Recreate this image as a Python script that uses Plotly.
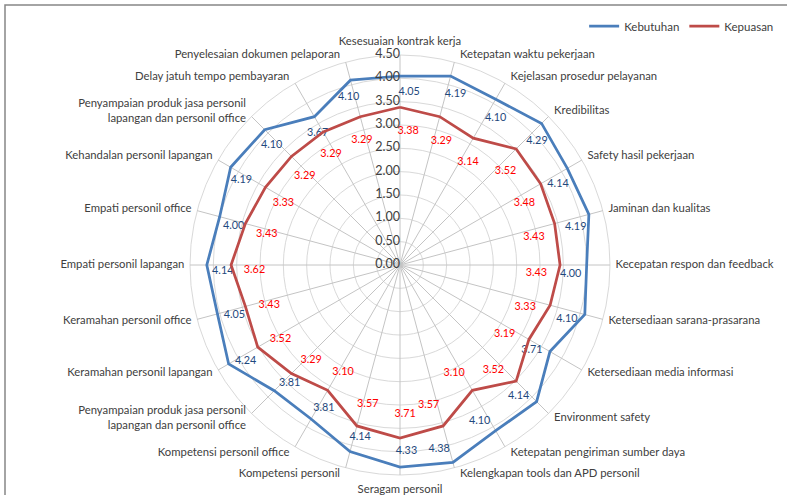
import math
import plotly.graph_objects as go

# Survey attributes, listed clockwise from the top spoke
categories = [
    "Kesesuaian kontrak kerja",
    "Ketepatan waktu pekerjaan",
    "Kejelasan prosedur pelayanan",
    "Kredibilitas",
    "Safety hasil pekerjaan",
    "Jaminan dan kualitas",
    "Kecepatan respon dan feedback",
    "Ketersediaan sarana-prasarana",
    "Ketersediaan media informasi",
    "Environment safety",
    "Ketepatan pengiriman sumber daya",
    "Kelengkapan tools dan APD personil",
    "Seragam personil",
    "Kompetensi personil",
    "Kompetensi personil office",
    "Penyampaian produk jasa personil<br>lapangan dan personil office",
    "Keramahan personil lapangan",
    "Keramahan personil office",
    "Empati personil lapangan",
    "Empati personil office",
    "Kehandalan personil lapangan",
    "Penyampaian produk jasa personil<br>lapangan dan personil office",
    "Delay jatuh tempo pembayaran",
    "Penyelesaian dokumen pelaporan",
]

kebutuhan = [4.05, 4.19, 4.10, 4.29, 4.14, 4.19, 4.00, 4.10, 3.71, 4.14, 4.10, 4.38,
             4.33, 4.14, 3.81, 3.81, 4.24, 4.05, 4.14, 4.00, 4.19, 4.10, 3.67, 4.10]
kepuasan = [3.38, 3.29, 3.14, 3.52, 3.48, 3.43, 3.43, 3.33, 3.19, 3.52, 3.10, 3.57,
            3.71, 3.57, 3.10, 3.29, 3.52, 3.43, 3.62, 3.43, 3.33, 3.29, 3.29, 3.29]

radial_ticks = [0.0, 0.5, 1.0, 1.5, 2.0, 2.5, 3.0, 3.5, 4.0, 4.5]
R_MAX = 4.5          # outer ring of the grid
R_VIEW = 4.72        # headroom so the category names fit inside the plot

n = len(categories)
angles = [i * 360.0 / n for i in range(n)]

BLUE = "#4A7EBB"
RED = "#BE4B48"
FONT = "Lato"
TEXT = "#404040"

fig = go.Figure()


def closed(vals):
    return list(vals) + [vals[0]]


# spokes, stopping at the outer ring
spoke_r, spoke_t = [], []
for a in angles:
    spoke_r += [0, R_MAX, None]
    spoke_t += [a, a, None]
fig.add_trace(go.Scatterpolar(
    r=spoke_r, theta=spoke_t, mode="lines", showlegend=False, hoverinfo="skip",
    line=dict(color="#C4C4C4", width=1),
))

# series lines, with value labels a little inside each vertex,
# nudged away from the top spoke
for name, vals, color, label_color, dr, turn_r, turn_l in [
    ("Kebutuhan", kebutuhan, BLUE, "#1F497D", 0.34, 3.0, -2.0),
    ("Kepuasan", kepuasan, RED, "#FF0000", 0.50, 3.5, -2.0),
]:
    fig.add_trace(go.Scatterpolar(
        r=closed(vals), theta=closed(angles), mode="lines", name=name,
        line=dict(color=color, width=2.75), hoverinfo="skip",
    ))
    fig.add_trace(go.Scatterpolar(
        r=[v - dr for v in vals],
        theta=[a + (turn_r if a < 180 else turn_l) for a in angles],
        mode="text", text=[f"{v:.2f}" for v in vals],
        showlegend=False, hoverinfo="skip",
        textfont=dict(family=FONT, size=10.8, color=label_color),
    ))

# scale values written along the top spoke, to its left
fig.add_trace(go.Scatterpolar(
    r=radial_ticks, theta=[0.0] * len(radial_ticks), mode="text",
    text=[f"{t:.2f}" for t in radial_ticks], textposition="middle left",
    showlegend=False, hoverinfo="skip",
    textfont=dict(family=FONT, size=12.5, color=TEXT),
))

# category names just outside the outer ring: left-aligned on the right half,
# right-aligned on the left half, centred at the top and bottom spokes
lab_r, lab_t, lab_pos = [], [], []
for a in angles:
    s, c = math.sin(math.radians(a)), math.cos(math.radians(a))
    side = abs(s) > 1e-9
    lift = 0.15 if c > -0.99 else 0.2
    pad = 0.12 if side else 0.0
    X = R_MAX * s + math.copysign(pad, s)
    Y = (R_MAX + lift) * c
    lab_r.append(math.hypot(X, Y))
    lab_t.append(math.degrees(math.atan2(X, Y)) % 360)
    if not side:
        lab_pos.append("top center" if c > 0 else "bottom center")
    elif s > 0:
        lab_pos.append("middle right")
    else:
        lab_pos.append("middle left")

fig.add_trace(go.Scatterpolar(
    r=lab_r, theta=lab_t, mode="text", text=categories, textposition=lab_pos,
    cliponaxis=False, showlegend=False, hoverinfo="skip",
    textfont=dict(family=FONT, size=11.3, color=TEXT),
))

W, H = 787, 495
cx, cy = 400, 265
RPX = 210 * R_VIEW / R_MAX

fig.update_layout(
    width=W, height=H,
    margin=dict(l=0, r=0, t=0, b=0),
    paper_bgcolor="white",
    font=dict(family=FONT, size=11.3, color=TEXT),
    polar=dict(
        domain=dict(x=[(cx - RPX) / W, (cx + RPX) / W],
                    y=[(H - cy - RPX) / H, (H - cy + RPX) / H]),
        bgcolor="white",
        gridshape="linear",
        radialaxis=dict(
            range=[0, R_VIEW], tickvals=radial_ticks, showticklabels=False,
            angle=90, showline=False,
            gridcolor="#D9D9D9", gridwidth=1, ticks="",
        ),
        angularaxis=dict(
            type="linear", thetaunit="degrees", rotation=90, direction="clockwise",
            tickvals=angles, showticklabels=False, showline=False,
            showgrid=False, ticks="",
        ),
    ),
    legend=dict(
        orientation="h", x=0.99, xanchor="right", y=1 - 26 / H, yanchor="middle",
        font=dict(family=FONT, size=11.5, color=TEXT),
        itemwidth=30, bgcolor="rgba(0,0,0,0)",
    ),
    shapes=[dict(
        type="rect", xref="paper", yref="paper",
        x0=5 / W, x1=1.02, y0=-0.02, y1=1 - 5 / H,
        line=dict(color="#868686", width=1.5), fillcolor="rgba(0,0,0,0)",
    )],
)

fig.write_html("out.html")
